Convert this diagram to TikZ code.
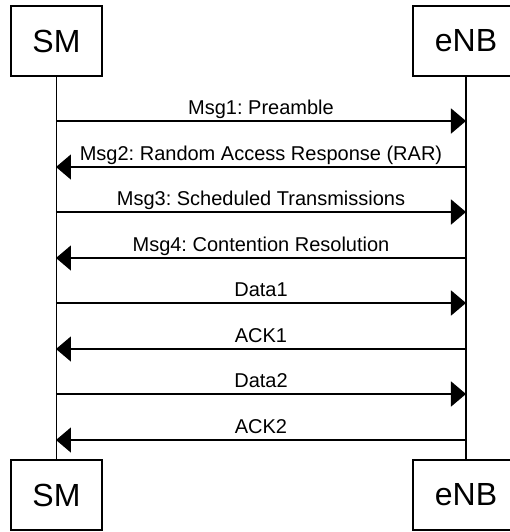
\documentclass[tikz,border=0pt]{standalone}
\usepackage{fontspec}
\setmainfont{Liberation Sans}
\usetikzlibrary{arrows.meta}
\frenchspacing

\begin{document}
\begin{tikzpicture}[x=0.5pt,y=-0.5pt,line width=0.75pt]
			\useasboundingbox (0,0) rectangle (510,532);
			\clip (0,0) rectangle (510,532);

			\begin{scope}[every node/.style={rectangle,draw,line width=0.75pt,minimum height=35pt,font=\fontsize{16}{19}\selectfont}]
				\node[minimum width=45.5pt] (SMtop) at (56.5,41) {SM};
				\node[minimum width=53pt] (eNBtop) at (466,41) {eNB};
				\node[minimum width=45.5pt] (SMbot) at (56.5,495) {SM};
				\node[minimum width=53pt] (eNBbot) at (466,495) {eNB};
			\end{scope}

			% lifelines
			\draw (SMtop.south) -- (SMbot.north);
			\draw (eNBtop.south) -- (eNBbot.north);

			% message end points
			\coordinate (s1) at (56,121);  \coordinate (e1) at (466,121);
			\coordinate (s2) at (56,167);  \coordinate (e2) at (466,167);
			\coordinate (s3) at (56,212);  \coordinate (e3) at (466,212);
			\coordinate (s4) at (56,258);  \coordinate (e4) at (466,258);
			\coordinate (s5) at (56,303);  \coordinate (e5) at (466,303);
			\coordinate (s6) at (56,349);  \coordinate (e6) at (466,349);
			\coordinate (s7) at (56,394);  \coordinate (e7) at (466,394);
			\coordinate (s8) at (56,440);  \coordinate (e8) at (466,440);

			\begin{scope}[every edge/.style={draw=black,line width=0.75pt},
				every node/.style={above,inner sep=3pt,text depth=0pt,font=\fontsize{10}{12}\selectfont},
				>={Triangle[length=7.5pt,width=12.5pt]}]
				\path [->] (s1) edge node {Msg1: Preamble} (e1);
				\path [->] (e2) edge node {Msg2: Random Access Response (RAR)} (s2);
				\path [->] (s3) edge node {Msg3: Scheduled Transmissions} (e3);
				\path [->] (e4) edge node {Msg4: Contention Resolution} (s4);
				\path [->] (s5) edge node {Data1} (e5);
				\path [->] (e6) edge node {ACK1} (s6);
				\path [->] (s7) edge node {Data2} (e7);
				\path [->] (e8) edge node {ACK2} (s8);
			\end{scope}
		\end{tikzpicture}
\end{document}
